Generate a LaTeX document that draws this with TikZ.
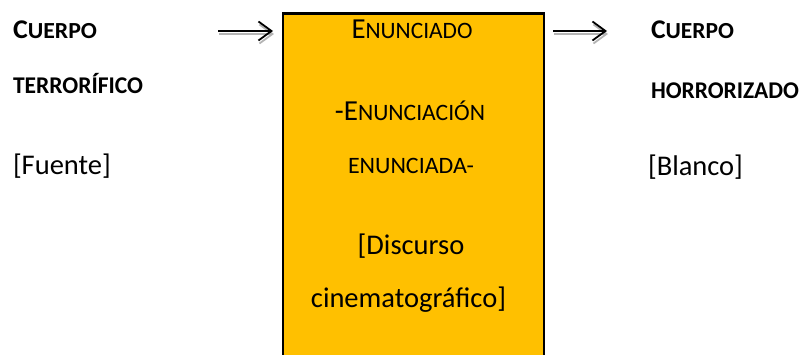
\documentclass[tikz,border=0pt]{standalone}
\usepackage{fontspec}
\setmainfont{Carlito}
\usepackage{graphicx}
\usetikzlibrary{arrows.meta}
\definecolor{gold}{HTML}{FFC000}
\definecolor{shadowgray}{HTML}{B4B4B4}
\newcommand\mysc[5]{\resizebox{#1pt}{\height}{{\fontsize{#2}{#2}\selectfont #4}{\fontsize{#3}{#3}\selectfont #5}}}
\newcommand\reg{\fontsize{28.5}{30}\selectfont}
\tikzset{
  lbl/.style={inner sep=0pt, outer sep=0pt, anchor=base west},
  ctr/.style={inner sep=0pt, outer sep=0pt, anchor=base},
  bigbox/.style={draw=black, fill=gold, line width=2.4pt, inner sep=0pt, anchor=north west,
    minimum width=261pt, minimum height=380pt},
  arr/.style={line width=1.8pt, -{Straight Barb[length=13pt,width=19pt,line width=1.8pt]}},
  arrshadow/.style={arr, draw=shadowgray}
}
\begin{document}
\begin{tikzpicture}[x=1pt,y=1pt]
\useasboundingbox (0,0) rectangle (801,-355);
% box
\node[bigbox] (box) at (282,-12.5) {};
% left texts
\node[lbl] (c1) at (13,-39) {\bfseries\mysc{84}{27}{23}{C}{UERPO}};
\node[lbl] (t1) at (13,-94) {\bfseries\mysc{130}{27}{24}{}{TERRORÍFICO}};
\node[lbl] (f1) at (13,-175) {\reg[Fuente]};
% right texts
\node[lbl] (c2) at (651,-39) {\bfseries\mysc{83}{27}{23}{C}{UERPO}};
\node[lbl] (h2) at (651,-99) {\bfseries\mysc{148}{27}{24}{}{HORRORIZADO}};
\node[lbl] (b2) at (648,-176) {\reg[Blanco]};
% box texts
\node[ctr] (e1) at (412,-39) {\mysc{121}{29}{23.5}{E}{NUNCIADO}};
\node[ctr] (e2) at (410,-121) {\mysc{150}{29}{23.5}{-E}{NUNCIACIÓN}};
\node[ctr] (e3) at (411,-174) {\mysc{126}{29}{23.5}{}{ENUNCIADA-}};
\node[ctr] (d1) at (411,-255) {\reg[Discurso};
\node[ctr] (d2) at (408.5,-308) {\reg cinematográfico]};
% arrows
\coordinate (a1s) at (218,-31);
\coordinate (a1e) at (273,-31);
\coordinate (a2s) at (553,-31);
\coordinate (a2e) at (607,-31);
\draw[arrshadow] ([shift={(1,-3)}]a1s) -- ([shift={(1,-3)}]a1e);
\draw[arrshadow] ([shift={(1,-3)}]a2s) -- ([shift={(1,-3)}]a2e);
\draw[arr] (a1s) -- (a1e);
\draw[arr] (a2s) -- (a2e);
\end{tikzpicture}
\end{document}
